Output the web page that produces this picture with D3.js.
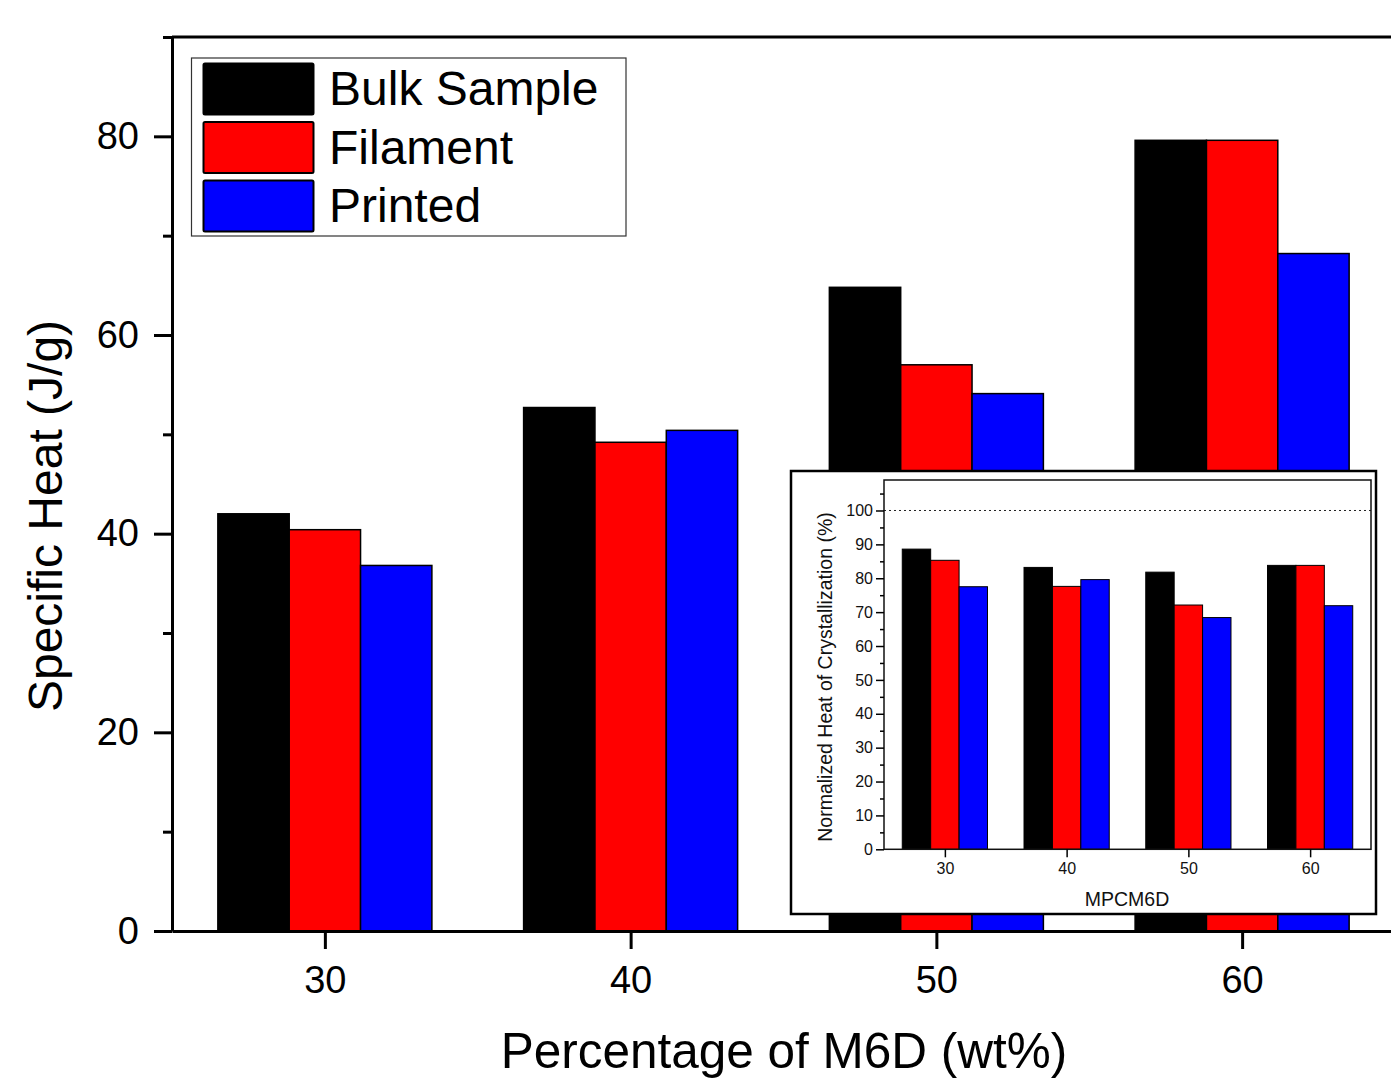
<!DOCTYPE html>
<html>
<head>
<meta charset="utf-8">
<script src="https://cdn.jsdelivr.net/npm/d3@7/dist/d3.min.js"></script>
<style>
  html, body { margin: 0; padding: 0; background: #fff; }
  svg { display: block; font-family: "Liberation Sans", Arial, sans-serif; }
</style>
</head>
<body>
<script>
// Chart data
var categories = [30, 40, 50, 60];
var seriesNames = ["Bulk Sample", "Filament", "Printed"];
var seriesColors = ["#000000", "#ff0000", "#0000ff"];

// Specific heat (J/g) - main chart
var bulkHeat = [42.0, 52.7, 64.8, 79.6];
var filamentHeat = [40.4, 49.2, 57.0, 79.6];
var printedHeat = [36.8, 50.4, 54.1, 68.2];

// Normalized heat of crystallization (%) - inset
var bulkNorm = [88.6, 83.2, 81.8, 83.8];
var filamentNorm = [85.3, 77.6, 72.1, 83.8];
var printedNorm = [77.5, 79.6, 68.4, 71.9];

var mainYTicks = [0, 20, 40, 60, 80];
var mainYMinor = [10, 30, 50, 70, 90];
var insetYTicks = [0, 10, 20, 30, 40, 50, 60, 70, 80, 90, 100];
var insetYMinor = [5, 15, 25, 35, 45, 55, 65, 75, 85, 95, 105];

var W = 1391, H = 1080;

var svg = d3.select("body").append("svg")
   .attr("width", W)
   .attr("height", H);

// Main scales
var mainX = d3.scaleLinear().domain([25, 65]).range([172, 1395]);
var mainY = d3.scaleLinear().domain([0, 90]).range([931, 37]);
// position of each series inside a group, in data units
var inGroup = d3.scaleBand().domain(seriesNames).range([-3.5, 3.5]);

function rows(vals) {
    return categories.map(function(c, i) {
        return {cat: c, values: [vals[0][i], vals[1][i], vals[2][i]]};
    });
}

function drawBars(g, x, y, data, strokeW) {
    var grp = g.selectAll(".grp").data(data).enter().append("g");
    grp.selectAll("rect")
        .data(function(d) {
            return seriesNames.map(function(s, k) { return {cat: d.cat, name: s, v: d.values[k], k: k}; });
        })
        .enter().append("rect")
        .attr("x", function(d) { return x(d.cat + inGroup(d.name)); })
        .attr("width", function(d) { return x(d.cat + inGroup(d.name) + inGroup.bandwidth()) - x(d.cat + inGroup(d.name)); })
        .attr("y", function(d) { return y(d.v); })
        .attr("height", function(d) { return y(0) - y(d.v); })
        .style("fill", function(d) { return seriesColors[d.k]; })
        .style("stroke", "#000")
        .style("stroke-width", strokeW);
}

/* MAIN CHART */
var main = svg.append("g");
drawBars(main, mainX, mainY, rows([bulkHeat, filamentHeat, printedHeat]), 1.5);

// top frame line
main.append("line")
    .attr("x1", mainX(25)).attr("x2", mainX(65))
    .attr("y1", mainY(90)).attr("y2", mainY(90))
    .style("stroke", "#000").style("stroke-width", 3);

// x axis
var xAxisMain = main.append("g")
    .attr("transform", "translate(0," + mainY(0) + ")")
    .call(d3.axisBottom(mainX).tickValues(categories).tickSize(18).tickPadding(17).tickSizeOuter(0));
xAxisMain.select(".domain").style("stroke-width", 3);
xAxisMain.selectAll(".tick line").style("stroke-width", 3);
xAxisMain.selectAll("text").style("font-size", "38px").style("fill", "#000");

// y axis minor ticks
main.append("g")
    .attr("transform", "translate(" + mainX(25) + ",0)")
    .call(d3.axisLeft(mainY).tickValues(mainYMinor).tickSize(9).tickFormat("").tickSizeOuter(0))
    .call(function(g) { g.select(".domain").remove(); })
    .selectAll(".tick line").style("stroke-width", 3);

// y axis
var yAxisMain = main.append("g")
    .attr("transform", "translate(" + mainX(25) + ",0)")
    .call(d3.axisLeft(mainY).tickValues(mainYTicks).tickSize(18).tickPadding(15).tickSizeOuter(0));
yAxisMain.select(".domain").style("stroke-width", 3);
yAxisMain.selectAll(".tick line").style("stroke-width", 3);
yAxisMain.selectAll("text").style("font-size", "38px").style("fill", "#000");

// axis titles
main.append("text")
    .attr("transform", "translate(62,516) rotate(-90)")
    .style("text-anchor", "middle")
    .style("font-size", "48px")
    .text("Specific Heat (J/g)");

main.append("text")
    .attr("x", 784).attr("y", 1068)
    .style("text-anchor", "middle")
    .style("font-size", "49.5px")
    .text("Percentage of M6D (wt%)");

// legend
var legend = main.append("g");
legend.append("rect")
    .attr("x", 191.5).attr("y", 58).attr("width", 434.5).attr("height", 178)
    .style("fill", "#fff").style("stroke", "#333").style("stroke-width", 1.2);
var legendRows = legend.selectAll(".item").data(seriesNames).enter().append("g")
    .attr("transform", function(d, i) { return "translate(0," + (i * 58.5) + ")"; });
legendRows.append("rect")
    .attr("x", 203.5).attr("y", 63.5).attr("width", 110).attr("height", 51)
    .attr("rx", 1.5)
    .style("fill", function(d, i) { return seriesColors[i]; })
    .style("stroke", "#000").style("stroke-width", 2);
legendRows.append("text")
    .attr("x", 329).attr("y", 105)
    .style("font-size", "48px")
    .text(function(d) { return d; });

/* INSET CHART */
var inset = svg.append("g");
inset.append("rect")
    .attr("x", 791).attr("y", 471).attr("width", 585).attr("height", 443)
    .style("fill", "#fff").style("stroke", "#000").style("stroke-width", 2.5);

var insX = d3.scaleLinear().domain([25, 65]).range([884, 1371]);
var insY = d3.scaleLinear().domain([0, 109]).range([849.3, 480]);

drawBars(inset, insX, insY, rows([bulkNorm, filamentNorm, printedNorm]), 1);

// dotted 100% reference line
inset.append("line")
    .attr("x1", insX(25)).attr("x2", insX(65))
    .attr("y1", insY(100)).attr("y2", insY(100))
    .style("stroke", "#222").style("stroke-width", 1)
    .style("stroke-dasharray", "2,3");

// plot frame
inset.append("rect")
    .attr("x", insX(25)).attr("y", insY(109))
    .attr("width", insX(65) - insX(25)).attr("height", insY(0) - insY(109))
    .style("fill", "none").style("stroke", "#111").style("stroke-width", 1.5);

var insXAxis = inset.append("g")
    .attr("transform", "translate(0," + insY(0) + ")")
    .call(d3.axisBottom(insX).tickValues(categories).tickSize(8).tickPadding(5).tickSizeOuter(0));
insXAxis.select(".domain").remove();
insXAxis.selectAll(".tick line").style("stroke-width", 1.5);
insXAxis.selectAll("text").style("font-size", "16px").style("fill", "#111");

inset.append("g")
    .attr("transform", "translate(" + insX(25) + ",0)")
    .call(d3.axisLeft(insY).tickValues(insetYMinor).tickSize(4).tickFormat("").tickSizeOuter(0))
    .call(function(g) { g.select(".domain").remove(); })
    .selectAll(".tick line").style("stroke-width", 1.5);

var insYAxis = inset.append("g")
    .attr("transform", "translate(" + insX(25) + ",0)")
    .call(d3.axisLeft(insY).tickValues(insetYTicks).tickSize(8).tickPadding(3).tickSizeOuter(0));
insYAxis.select(".domain").remove();
insYAxis.selectAll(".tick line").style("stroke-width", 1.5);
insYAxis.selectAll("text").style("font-size", "16px").style("fill", "#111");

inset.append("text")
    .attr("transform", "translate(832,677) rotate(-90)")
    .style("text-anchor", "middle")
    .style("font-size", "19.5px")
    .style("fill", "#111")
    .text("Normalized Heat of Crystallization (%)");

inset.append("text")
    .attr("x", 1127).attr("y", 906)
    .style("text-anchor", "middle")
    .style("font-size", "19.5px")
    .style("fill", "#111")
    .text("MPCM6D");
</script>
</body>
</html>
